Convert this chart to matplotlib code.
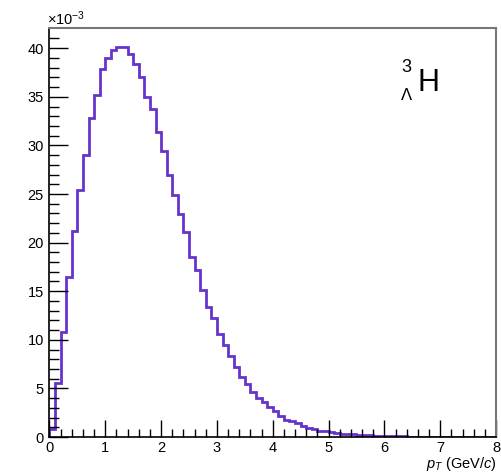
import matplotlib.pyplot as plt
import numpy as np

plt.rcParams['font.family'] = ['Liberation Sans', 'DejaVu Sans']
plt.rcParams['mathtext.fontset'] = 'custom'
plt.rcParams['mathtext.rm'] = 'Liberation Sans'
plt.rcParams['mathtext.it'] = 'Liberation Sans:italic'

# bin contents, in units of 1e-3, bins of 0.1 GeV/c from 0 to 8
counts = [
    0.8, 5.6, 10.8, 16.5, 21.2, 25.4, 29.0, 32.8, 35.2, 37.9,
    39.0, 39.8, 40.1, 40.15, 39.4, 38.4, 37.0, 35.0, 33.7, 31.4,
    29.4, 27.0, 24.9, 22.9, 21.1, 18.5, 17.2, 15.1, 13.4, 12.2,
    10.6, 9.5, 8.3, 7.2, 6.2, 5.5, 4.6, 4.05, 3.6, 3.1,
    2.7, 2.15, 1.8, 1.65, 1.4, 1.13, 0.96, 0.79, 0.65, 0.58,
    0.48, 0.41, 0.36, 0.31, 0.26, 0.22, 0.19, 0.16, 0.13, 0.11,
    0.09, 0.08, 0.07, 0.06, 0.05, 0.045, 0.04, 0.035, 0.03, 0.028,
    0.025, 0.022, 0.02, 0.018, 0.016, 0.015, 0.013, 0.012, 0.011, 0.01,
]
bin_edges = np.linspace(0, 8, len(counts) + 1)

x_ticks = [0, 1, 2, 3, 4, 5, 6, 7, 8]
y_ticks = [0, 5, 10, 15, 20, 25, 30, 35, 40]

fig = plt.figure(figsize=(5.02, 4.73), dpi=100)
ax = fig.add_axes([49.5 / 502, 36 / 473, (496 - 49.5) / 502, (437 - 28) / 473])

ax.stairs(counts, bin_edges, baseline=0, color='#6633CC', linewidth=2)

ax.set_xlim(0, 8)
ax.set_ylim(0, 42.08)
ax.set_xticks(x_ticks)
ax.set_yticks(y_ticks)
ax.set_xticks(np.arange(0, 8.01, 0.2), minor=True)
ax.set_yticks(np.arange(0, 42, 1), minor=True)

ax.tick_params(which='both', direction='in', labelsize=10.5, pad=3, width=1)
ax.tick_params(which='major', length=12)
ax.tick_params(which='minor', length=6)
ax.tick_params(axis='y', which='major', length=14, pad=4)
ax.tick_params(axis='y', which='minor', length=7)

for s in ['left', 'bottom']:
    ax.spines[s].set_linewidth(1.2)
for s in ['top', 'right']:
    ax.spines[s].set_color('#777777')
    ax.spines[s].set_linewidth(1.5)

fig.text(47 / 502, 1 - 19 / 473, r'$\times$10$^{-3}$', fontsize=10.5, va='center', ha='left')

fig.text(497 / 502, 1 - 464 / 473, r'$p_{T}$ (GeV/$c$)', fontsize=10.5,
         ha='right', va='center')

fig.text(401 / 502, 1 - 67 / 473, '3', fontsize=13, ha='left', va='center')
fig.text(401 / 502, 1 - 96 / 473, 'Λ', fontsize=12, ha='left', va='center')
fig.text(418 / 502, 1 - 83 / 473, 'H', fontsize=22, ha='left', va='center')

plt.savefig('out.png', dpi=100)
